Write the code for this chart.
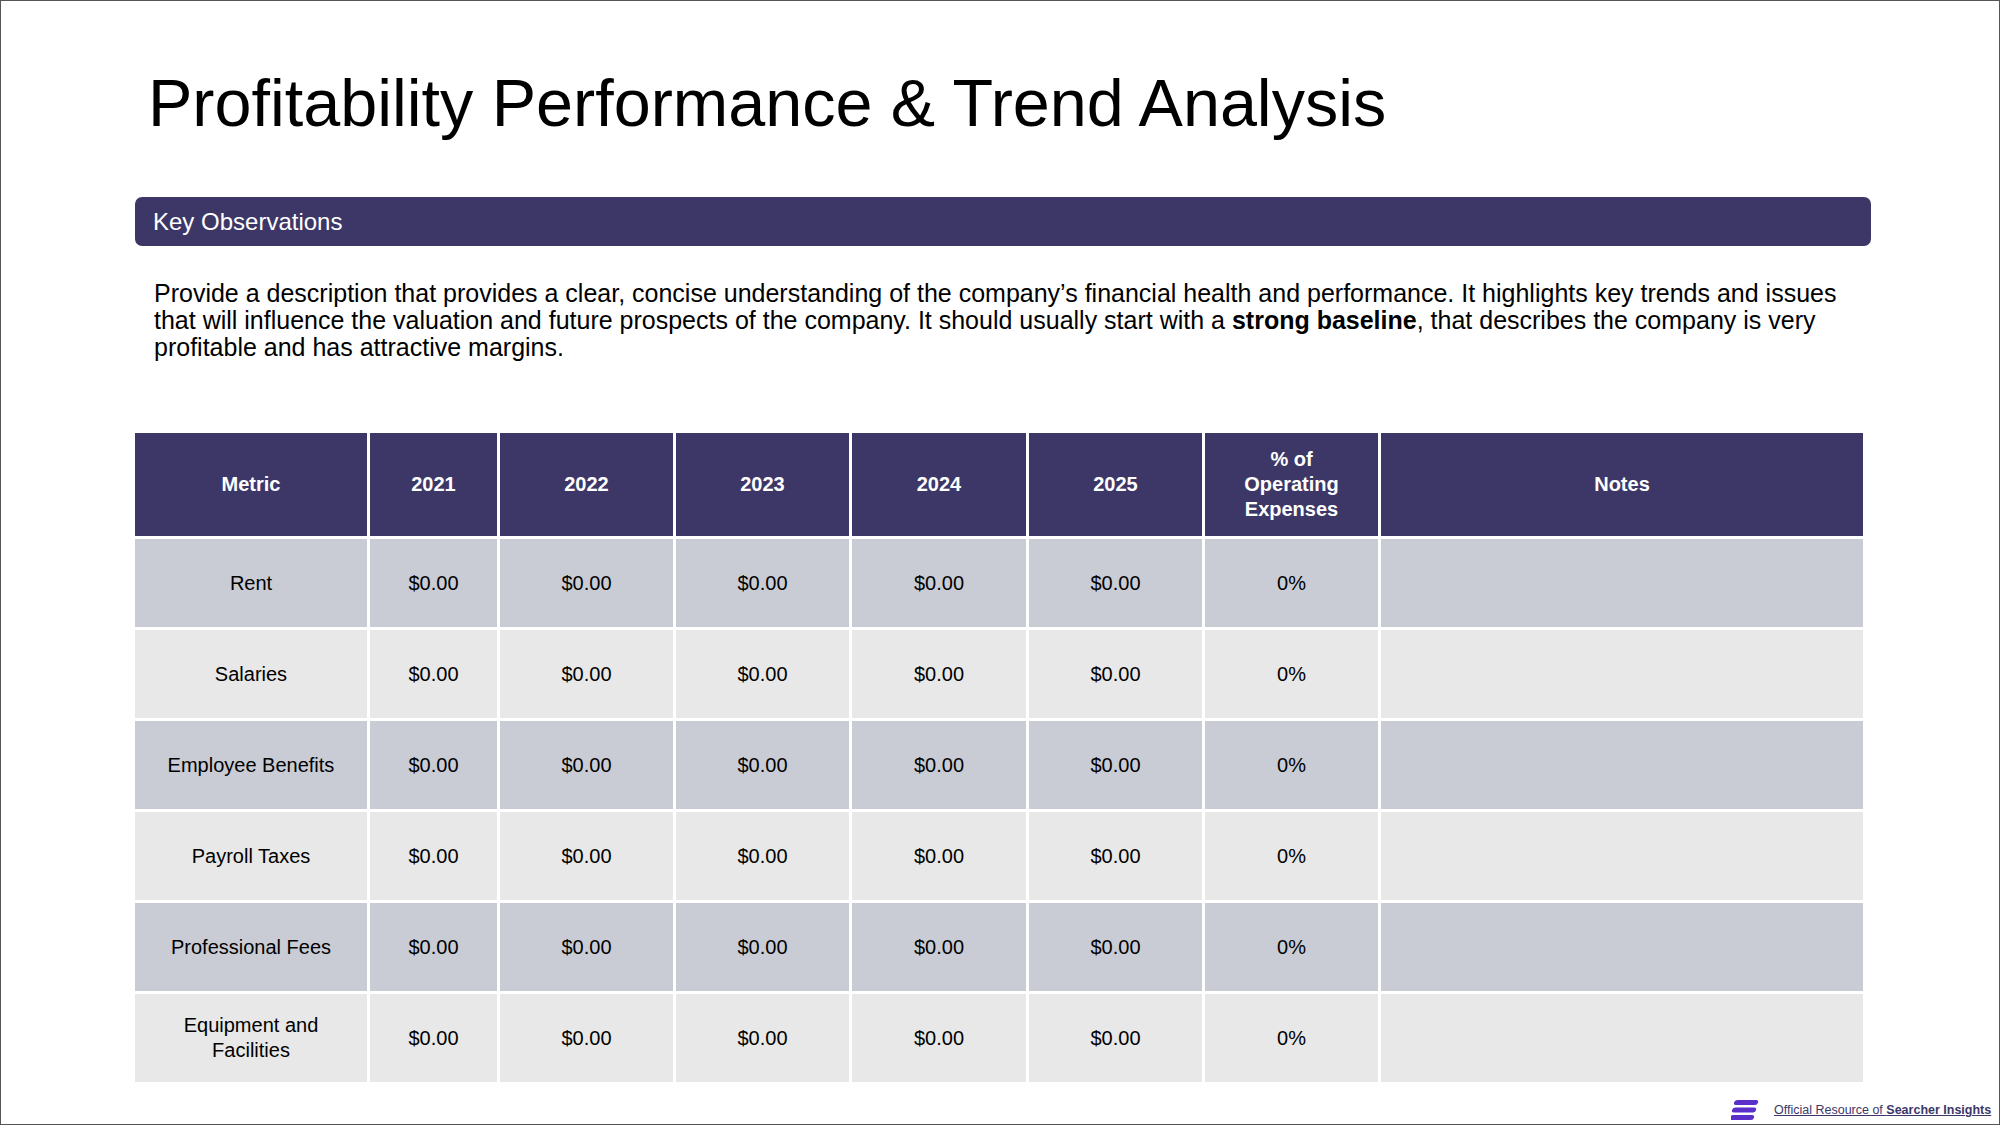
<!DOCTYPE html>
<html><head><meta charset="utf-8">
<script src="https://cdn.jsdelivr.net/npm/chart.js"></script>
<style>
html,body{margin:0;padding:0;background:#fff;}
#page{position:relative;width:1998px;height:1123px;border:1px solid #555;font-family:"Liberation Sans",Arial,sans-serif;overflow:hidden;}
#title{position:absolute;left:147px;top:64px;font-size:66.5px;color:#000;white-space:nowrap;}
#banner{position:absolute;left:134px;top:196px;width:1736px;height:49px;background:#3d3768;border-radius:7px;color:#fff;font-size:24px;line-height:49px;}
#banner span{margin-left:18px;}
#desc{position:absolute;left:153px;top:279px;width:1700px;font-size:25px;line-height:27px;color:#000;}
table{position:absolute;left:131px;top:429px;border-collapse:collapse;table-layout:fixed;}
td,th{border:3px solid #fff;text-align:center;font-size:20px;padding:0;}
th{background:#3d3768;color:#fff;height:103px;line-height:25px;}
td{height:88px;line-height:25px;}
tr.odd td{background:#c9ccd4;}
tr.even td{background:#e8e8e8;}
#foot{position:absolute;left:1773px;top:1102px;font-size:12.5px;color:#3d3768;text-decoration:underline;white-space:nowrap;}
#logo{position:absolute;left:1730px;top:1098px;width:30px;height:22px;}
</style></head><body>
<div id="page">
<div id="title">Profitability Performance &amp; Trend Analysis</div>
<div id="banner"><span>Key Observations</span></div>
<div id="desc">Provide a description that provides a clear, concise understanding of the company’s financial health and performance. It highlights key trends and issues that will influence the valuation and future prospects of the company. It should usually start with a <b>strong baseline</b>, that describes the company is very profitable and has attractive margins.</div>
<table id="tbl"></table>
<svg id="logo" viewBox="0 0 30 22"><rect x="4" y="1" width="24" height="5" rx="2.5" fill="#5b2fc9" transform="skewX(-15)"/><rect x="4" y="8.5" width="24" height="5" rx="2.5" fill="#5b2fc9" transform="skewX(-15)"/><rect x="4" y="16" width="24" height="5" rx="2.5" fill="#5b2fc9" transform="skewX(-15)"/></svg>
<div id="foot">Official Resource of <b>Searcher Insights</b></div>
</div>
<script>
const headers = ["Metric","2021","2022","2023","2024","2025","% of<br>Operating<br>Expenses","Notes"];
const metrics = ["Rent","Salaries","Employee Benefits","Payroll Taxes","Professional Fees","Equipment and<br>Facilities"];
const values2021 = [0,0,0,0,0,0];
const values2022 = [0,0,0,0,0,0];
const values2023 = [0,0,0,0,0,0];
const values2024 = [0,0,0,0,0,0];
const values2025 = [0,0,0,0,0,0];
const pctOpex = [0,0,0,0,0,0];
const notes = ["","","","","",""];
const widths = [235,130,176,176,177,176,176,485];
const t = document.getElementById('tbl');
let h = '<colgroup>' + widths.map(w=>`<col style="width:${w}px">`).join('') + '</colgroup>';
h += '<tr>' + headers.map(x=>`<th>${x}</th>`).join('') + '</tr>';
const money = v => '$' + v.toFixed(2);
metrics.forEach((m,i)=>{
  h += `<tr class="${i%2?'even':'odd'}"><td>${m}</td><td>${money(values2021[i])}</td><td>${money(values2022[i])}</td><td>${money(values2023[i])}</td><td>${money(values2024[i])}</td><td>${money(values2025[i])}</td><td>${pctOpex[i]}%</td><td>${notes[i]}</td></tr>`;
});
t.innerHTML = h;
</script>
</body></html>
